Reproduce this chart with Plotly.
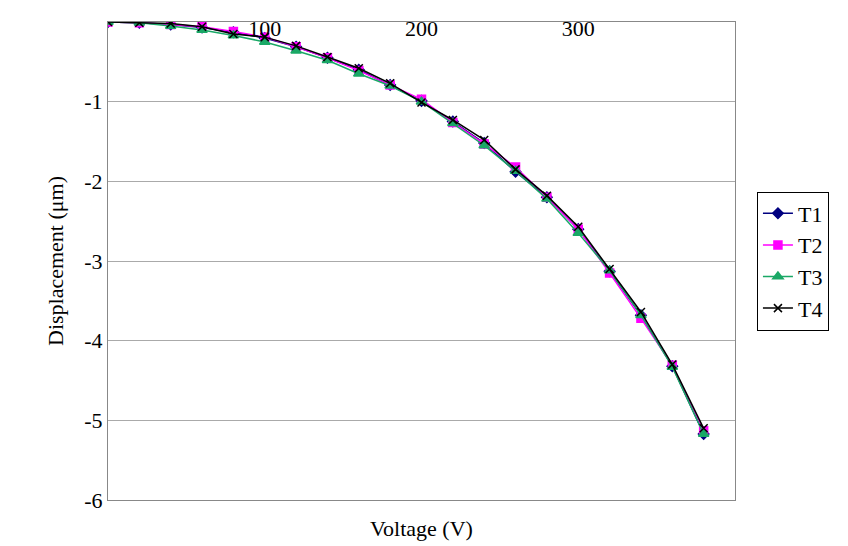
import plotly.graph_objects as go

voltage = [0,20,40,60,80,100,120,140,160,180,200,220,240,260,280,300,320,340,360,380]
t1 = [0,-0.01,-0.03,-0.07,-0.13,-0.2,-0.31,-0.45,-0.6,-0.79,-0.99,-1.25,-1.52,-1.88,-2.2,-2.6,-3.13,-3.68,-4.32,-5.17]
t2 = [0,-0.01,-0.03,-0.06,-0.12,-0.19,-0.31,-0.45,-0.61,-0.79,-0.97,-1.26,-1.53,-1.82,-2.2,-2.6,-3.15,-3.72,-4.31,-5.13]
t3 = [0,-0.01,-0.05,-0.1,-0.17,-0.25,-0.36,-0.48,-0.65,-0.8,-1.0,-1.27,-1.55,-1.87,-2.22,-2.65,-3.12,-3.68,-4.33,-5.17]
t4 = [0,-0.01,-0.02,-0.06,-0.15,-0.19,-0.3,-0.44,-0.58,-0.77,-1.01,-1.23,-1.48,-1.85,-2.18,-2.57,-3.1,-3.64,-4.3,-5.1]
y_ticks = [0,-1,-2,-3,-4,-5,-6]
y_labels = ["0","-1","-2","-3","-4","-5","-6"]
x_ticks = [0,100,200,300,400]

series = [("T1", t1, "#000080", "diamond", 8),
          ("T2", t2, "#FF00FF", "square", 8),
          ("T3", t3, "#1AA866", "triangle-up", 9),
          ("T4", t4, "#000000", "x-thin", 8)]

fig = go.Figure()
for name, ys, col, sym, sz in series:
    fig.add_trace(go.Scatter(x=voltage, y=ys, name=name, mode="lines+markers",
        line=dict(color=col, width=1.5),
        marker=dict(symbol=sym, size=sz, color=col, line=dict(color=col, width=1.5))))

serif = "Liberation Serif"
font = dict(family=serif, size=22, color="black")
fig.update_layout(
    width=848, height=546, paper_bgcolor="white", plot_bgcolor="white",
    font=font, margin=dict(l=100, r=121, t=14, b=54, autoexpand=False),
    xaxis=dict(range=[0,400], tickvals=x_ticks, side="top", ticklabelposition="inside",
               showline=True, linecolor="#888", mirror=True, automargin=False,
               showgrid=False, zeroline=False, ticks="", tickfont=font),
    yaxis=dict(range=[-6,0], tickvals=y_ticks, ticktext=y_labels, showgrid=True, gridcolor="#aaa",
               gridwidth=1, showline=True, linecolor="#888", mirror=True, zeroline=False,
               ticks="", tickfont=font, automargin=False,
               title=dict(text="Displacement (μm)", standoff=14, font=font)),
    legend=dict(x=1.035, y=0.5, yanchor="middle", xanchor="left", bordercolor="black",
                borderwidth=1, font=font, tracegroupgap=4),
    annotations=[dict(text="Voltage (V)", x=0.5, y=-0.03, xref="paper", yref="paper",
                      yanchor="top", showarrow=False, font=font)],
)
fig.write_html("out.html")
